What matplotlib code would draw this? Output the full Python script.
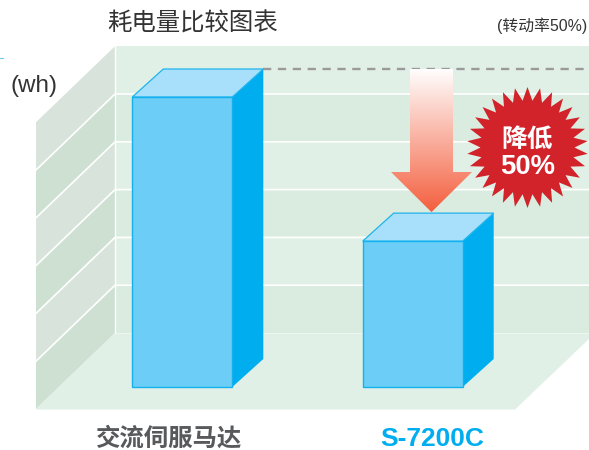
import numpy as np
import matplotlib
matplotlib.use("Agg")
import matplotlib.pyplot as plt
from matplotlib.patches import Polygon

cjk = ['Liberation Sans', 'Noto Sans CJK SC']

# valores relativos de consumo
categorias = ['交流伺服马达', 'S-7200C']
valores = [100, 50.3]
colores_label = ['#58595b', '#00aeef']
niveles = [0, 1, 2, 3, 4, 5, 6]  # lineas de la rejilla

# geometria en pixeles de la imagen
BASE = 387.0
ESCALA = 2.9
def yv(p):
    return (BASE - p) / ESCALA

fig = plt.figure(figsize=(5.89, 4.5), dpi=100)
ax = fig.add_axes([0, 0, 1, 1])
ax.set_xlim(0, 589)
ax.set_ylim(yv(450), yv(0))
ax.axis('off')

# pared del fondo y pared lateral
piso_atras = 333.0
paso = 47.8
for n in niveles[:-1]:
    y0 = piso_atras - n * paso
    y1 = piso_atras - (n + 1) * paso
    c = '#d9ecdf' if n % 2 == 0 else '#e1f0e6'
    c2 = '#cde0d2' if n % 2 == 0 else '#d8e4db'
    ax.add_patch(Polygon([(115, yv(y0)), (589, yv(y0)), (589, yv(y1)), (115, yv(y1))], fc=c, ec='none'))
    ax.add_patch(Polygon([(36, yv(y0 + 76)), (115, yv(y0)), (115, yv(y1)), (36, yv(y1 + 76))], fc=c2, ec='none'))
for n in niveles[1:-1]:
    y0 = piso_atras - n * paso
    ax.plot([36, 115, 589], [yv(y0 + 76), yv(y0), yv(y0)], color='white', lw=1.2, solid_joinstyle='miter')
ax.plot([115, 115], [yv(333), yv(46)], color='white', lw=1.0)

# piso
ax.add_patch(Polygon([(36, yv(409)), (115, yv(333)), (589, yv(333)), (589, yv(339)), (515, yv(409.5)), (36, yv(409.5))],
                     fc='#e1f0e6', ec='none'))
ax.plot([115, 589], [yv(333), yv(333)], color='#eef6f0', lw=0.8)

# barras 3d
lefts = [132.3, 362.7]
ancho = 100.0
dx = 31.0
dy = 28.0 / ESCALA
for x, v in zip(lefts, valores):
    r = x + ancho
    ax.add_patch(Polygon([(r, 0), (r + dx, dy), (r + dx, v + dy), (r, v)], fc='#00aeef', ec='none', zorder=3))
    ax.add_patch(Polygon([(x, v), (r, v), (r + dx, v + dy), (x + dx, v + dy)], fc='#a8e0fb', ec='#1fb4ec', lw=0.9, zorder=3))
    ax.add_patch(Polygon([(x, 0), (r, 0), (r, v), (x, v)], fc='#6ccef6', ec='#14b1ee', lw=1.0, zorder=4))

# linea punteada desde la barra mas alta
ax.plot([263, 589], [valores[0] + dy, valores[0] + dy], color='#9a9a9a', lw=1.7,
        dashes=(3.5, 2.8), dash_capstyle='butt', zorder=2)

# flecha con degradado
ytop = valores[0] + dy
ytip = valores[1] + dy + 0.35
ycuello = yv(172)
flecha = Polygon([(410, ytop), (453, ytop), (453, ycuello), (472, ycuello), (431.5, ytip), (391, ycuello), (410, ycuello), (410, ytop)],
                 transform=ax.transData, fc='none', ec='none')
ax.add_patch(flecha)
grad = np.linspace(0, 1, 256)[:, None, None]
blanco = np.array([1.0, 1.0, 1.0])
rojo = np.array([0xf4, 0x5f, 0x3e]) / 255
img = blanco * (1 - grad) + rojo * grad
im = ax.imshow(img, extent=[391, 472, ytip, ytop], aspect='auto', zorder=5, origin='upper')
im.set_clip_path(flecha)
ax.set_xlim(0, 589)
ax.set_ylim(yv(450), yv(0))

# estrella
puntas = 30
ang = np.linspace(0, 2 * np.pi, puntas * 2, endpoint=False) + np.pi / 2
rad = np.where(np.arange(puntas * 2) % 2 == 0, 60.5, 47.0)
ax.add_patch(Polygon(np.column_stack([527.5 + rad * np.cos(ang), yv(147.5) + rad * np.sin(ang) / ESCALA]),
                     fc='#d2232a', ec='none', zorder=6))
ax.text(527.5, yv(140), '降低', color='white', fontsize=18.5, fontweight='bold', family=cjk, ha='center', va='center', zorder=7)
ax.text(527.5, yv(167), '50%', color='white', fontsize=19.8, fontweight='bold', family=cjk, ha='center', va='center', zorder=7)

# textos
ax.text(192, yv(24), '耗电量比较图表', color='#333333', fontsize=17.6, family=cjk, fontweight='medium', ha='center', va='center')
ax.text(587, yv(26), '(转动率50%)', color='#333333', fontsize=11.4, family=cjk, ha='right', va='center')
ax.text(10, yv(86), '(wh)', color='#333333', fontsize=17.5, family=cjk, ha='left', va='center')
ax.plot([0, 3], [yv(57.5), yv(57.5)], color='#6ccef6', lw=0.8)
for cat, col, cx, fs in zip(categorias, colores_label, [169, 432], [17.6, 19]):
    ax.text(cx, yv(438.5), cat, color=col, fontsize=fs, fontweight='bold', family=cjk, ha='center', va='center')

fig.savefig('out.png', dpi=100)
